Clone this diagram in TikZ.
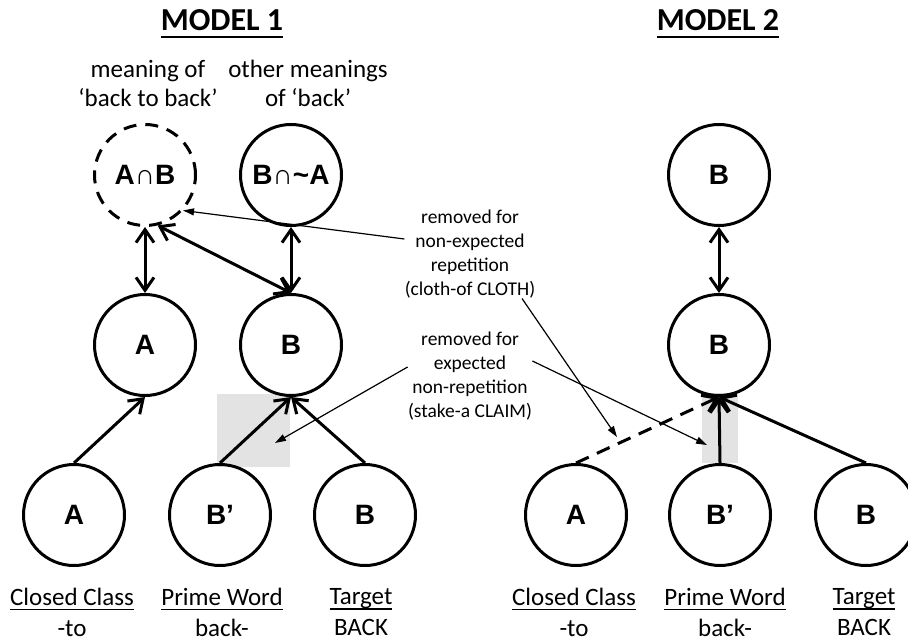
\documentclass[tikz,border=0pt]{standalone}
\usepackage{fontspec}
\setmainfont{Carlito}
\newfontfamily\etiqfont{Liberation Sans}
\usetikzlibrary{arrows.meta}

\newsavebox{\cajasub}
\newcommand{\subr}[1]{\sbox{\cajasub}{#1}\rlap{\rule[-2.7pt]{\wd\cajasub}{0.9pt}}\usebox{\cajasub}}
\newcommand{\titulo}[1]{\sbox{\cajasub}{#1}\rlap{\rule[-4pt]{\wd\cajasub}{1.4pt}}\usebox{\cajasub}}

\begin{document}
\begin{tikzpicture}[
    x=0.5pt, y=-0.5pt,
    every node/.style={align=center, inner sep=0pt},
    nodo/.style={circle, draw, line width=1.5pt, minimum size=50.5pt,
                 font=\etiqfont\bfseries\fontsize{14}{16}\selectfont},
    punteado/.style={nodo, dash pattern=on 6.5pt off 4.5pt},
    flecha/.style={-{Straight Barb[length=6.5pt,width=9pt]}, line width=1.5pt},
    doble/.style={{Straight Barb[length=6.5pt,width=9pt]}-{Straight Barb[length=6.5pt,width=9pt]},
                  line width=1.5pt},
    fina/.style={-{Triangle[length=5.5pt,width=3.5pt]}, line width=0.6pt},
    nota/.style={font=\fontsize{9.75}{12}\selectfont},
    texto/.style={font=\fontsize{12.5}{14.5}\selectfont},
    rotulo/.style={font=\fontsize{12.5}{15.5}\selectfont},
    cabeza/.style={font=\bfseries\fontsize{16}{19}\selectfont},
    sombra/.style={fill=gray!22}
]
    \useasboundingbox (0,0) rectangle (908,641);

    % zonas sombreadas
    \fill[sombra] (217,394) rectangle (290,467);
    \fill[sombra] (702,393) rectangle (738,463);

    % titulos
    \node[cabeza] (mod1) at (222,24) {\titulo{MODEL 1}};
    \node[cabeza] (mod2) at (718,24) {\titulo{MODEL 2}};
    \node[texto] (sig1) at (148,83) {meaning of\\ ‘back to back’};
    \node[texto] (sig2) at (308,83) {other meanings\\ of ‘back’};

    % modelo 1
    \node[punteado] (ayb)  at (145,175) {A∩B};
    \node[nodo]     (bna)  at (291,175) {B∩\textasciitilde A};
    \node[nodo]     (amed) at (145,345) {A};
    \node[nodo]     (bmed) at (291,345) {B};
    \node[nodo]     (abaj) at (74,515)  {A};
    \node[nodo]     (bpri) at (220,515) {B’};
    \node[nodo]     (bobj) at (365,515) {B};

    % modelo 2
    \node[nodo] (bsup2) at (719,175) {B};
    \node[nodo] (bmed2) at (719,345) {B};
    \node[nodo] (abaj2) at (576,515) {A};
    \node[nodo] (bpri2) at (720,515) {B’};
    \node[nodo] (bobj2) at (866,515) {B};

    % rotulos de abajo
    \node[rotulo] (cc1) at (72,612)  {\subr{Closed Class}\\ -to};
    \node[rotulo] (pw1) at (222,612) {\subr{Prime Word}\\ back-};
    \node[rotulo] (tg1) at (361,612) {\subr{Target}\\ BACK};
    \node[rotulo] (cc2) at (574,612) {\subr{Closed Class}\\ -to};
    \node[rotulo] (pw2) at (725,612) {\subr{Prime Word}\\ back-};
    \node[rotulo] (tg2) at (864,612) {\subr{Target}\\ BACK};

    % notas
    \node[nota] (nota1) at (470,254) {removed for\\ non-expected\\ repetition\\ (cloth-of CLOTH)};
    \node[nota] (nota2) at (470,376) {removed for\\ expected\\ non-repetition\\ (stake-a CLAIM)};
    \coordinate (hueco1) at (275,443);
    \coordinate (hueco2) at (617,437);
    \coordinate (hueco3) at (707,445);

    % flechas modelo 1
    \draw[flecha] (abaj.north) -- (amed.south);
    \draw[flecha] (bpri.north) -- (bmed.south);
    \draw[flecha] (bobj.north) -- (bmed.south);
    \draw[doble]  (amed.north) -- (ayb.south);
    \draw[doble]  (bmed.north) -- (bna.south);
    \draw[doble]  (bmed.north) -- (ayb.-76);

    % flechas modelo 2
    \draw[doble]  (bmed2.north) -- (bsup2.south);
    \draw[flecha, dash pattern=on 7pt off 4.5pt] (abaj2.north) -- (bmed2.south);
    \draw[flecha] (bpri2.north) -- (bmed2.south);
    \draw[flecha] (bobj2.north) -- (bmed2.south);

    % flechas de las notas
    \draw[fina] ([yshift=7.5pt]nota1.west) -- (ayb.-43);
    \draw[fina] ([xshift=26pt]nota1.south) -- (hueco2);
    \draw[fina] ([yshift=4.5pt]nota2.west) -- (hueco1);
    \draw[fina] ([yshift=7.5pt]nota2.east) -- (hueco3);
\end{tikzpicture}
\end{document}
